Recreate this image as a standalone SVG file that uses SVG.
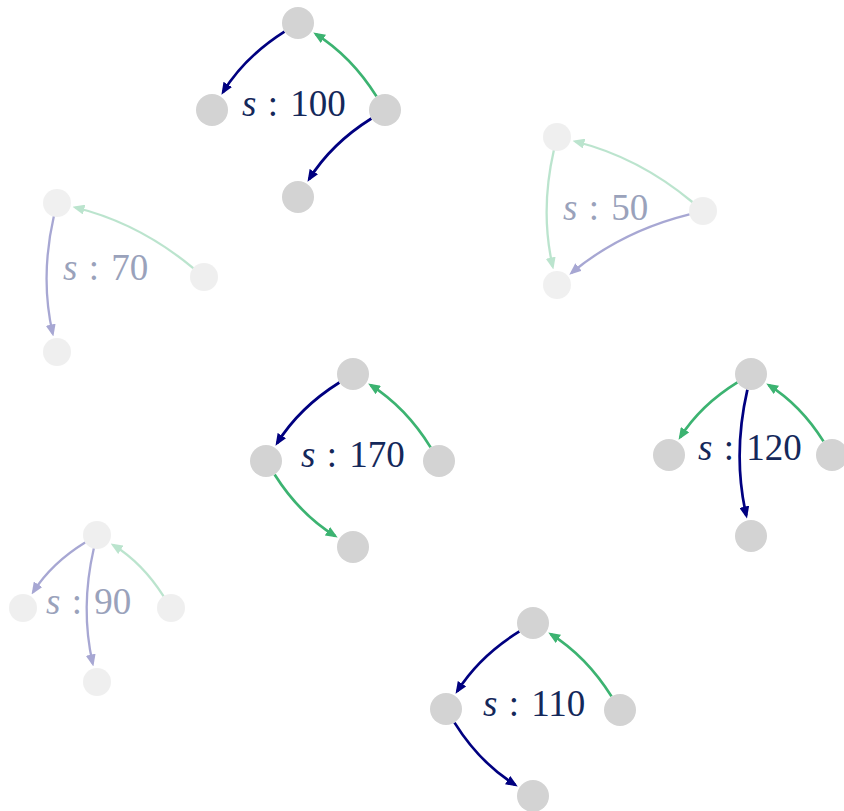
<svg xmlns="http://www.w3.org/2000/svg" width="844" height="811" viewBox="0 0 844 811">
<style>
.n{fill:#d3d3d3}
.e{fill:none;stroke-width:2.7}
.f .e{stroke-width:2.3}
.nv{stroke:#000080}
.gr{stroke:#3cb371}
.nv{marker-end:url(#an)}
.gr{marker-end:url(#ag)}
.f{opacity:0.34}
.lbl{font-family:"Liberation Serif","Times New Roman",serif;font-size:37px;fill:#14285a}
.lf{fill:#9aa2bb}
.it{font-style:italic}
</style>
<defs>
<marker id="an" viewBox="0 0 12 10" refX="9" refY="5" markerWidth="12" markerHeight="10" markerUnits="userSpaceOnUse" orient="auto"><path d="M0,0 L12,5 L0,10 z" fill="#000080"/></marker>
<marker id="ag" viewBox="0 0 12 10" refX="9" refY="5" markerWidth="12" markerHeight="10" markerUnits="userSpaceOnUse" orient="auto"><path d="M0,0 L12,5 L0,10 z" fill="#3cb371"/></marker>
</defs>
<g id="connectors">
<g id="c100">
<path class="e nv" d="M284.5,31.6 Q245,56.6 223,92.1"/>
<path class="e gr" d="M376.5,96.4 Q351.5,56.5 315.8,34.1"/>
<path class="e nv" d="M371.4,118.5 Q331.5,143.5 309.1,179.2"/>
</g>
<g id="c170">
<path class="e nv" d="M339.4,382.5 Q299.5,407.5 277.1,443.2"/>
<path class="e gr" d="M430.6,447.4 Q406,407.6 370.7,385.2"/>
<path class="e gr" d="M274.6,474.5 Q299.6,514 335.1,536"/>
</g>
<g id="c110">
<path class="e nv" d="M519.4,631.4 Q479.6,656 457.2,691.3"/>
<path class="e gr" d="M611.5,696.4 Q586.5,656.5 550.8,634.1"/>
<path class="e nv" d="M454.5,722.6 Q479.5,762.5 515.2,784.9"/>
</g>
<g id="c120">
<path class="e gr" d="M737.4,382.4 Q700.7,405.1 680.2,437.3"/>
<path class="e gr" d="M823.5,441.4 Q800.8,405.2 768.8,385.1"/>
<path class="e nv" d="M747.4,389.6 Q732.4,455 746.3,515.5"/>
</g>
<g id="c50" class="f">
<path class="e gr" d="M692.3,202 Q638.5,157.2 575.4,141.5"/>
<path class="e gr" d="M553.8,150.6 Q540,211 552.7,266.5"/>
<path class="e nv" d="M689.4,214.3 Q621.5,231.2 571.6,272.8"/>
</g>
<g id="c70" class="f">
<path class="e gr" d="M193.2,268.1 Q139,223.1 75.4,207.5"/>
<path class="e nv" d="M53.8,216.6 Q39.9,277.5 52.7,333.5"/>
</g>
<g id="c90" class="f">
<path class="e nv" d="M85.1,542.4 Q51.6,563 33.2,591.9"/>
<path class="e nv" d="M93.8,548.6 Q80.1,608.5 92.7,663.5"/>
<path class="e gr" d="M163.5,596.2 Q142.4,563 113.2,545"/>
</g>
</g>
<g id="g100">
<circle class="n" cx="298" cy="23" r="16"/>
<circle class="n" cx="212" cy="110" r="16"/>
<circle class="n" cx="385" cy="110" r="16"/>
<circle class="n" cx="298" cy="197" r="16"/>
<text class="lbl" x="242" y="116"><tspan class="it">s</tspan> <tspan dx="2">:</tspan> <tspan dx="3">100</tspan></text>
</g>
<g id="g170">
<circle class="n" cx="353" cy="374" r="16"/>
<circle class="n" cx="266" cy="461" r="16"/>
<circle class="n" cx="439" cy="461" r="16"/>
<circle class="n" cx="353" cy="547" r="16"/>
<text class="lbl" x="301" y="467"><tspan class="it">s</tspan> <tspan dx="2">:</tspan> <tspan dx="3">170</tspan></text>
</g>
<g id="g110">
<circle class="n" cx="533" cy="623" r="16"/>
<circle class="n" cx="446" cy="709" r="16"/>
<circle class="n" cx="620" cy="710" r="16"/>
<circle class="n" cx="533" cy="796" r="16"/>
<text class="lbl" x="483" y="716"><tspan class="it">s</tspan> <tspan dx="2">:</tspan> <tspan dx="3">110</tspan></text>
</g>
<g id="g120">
<circle class="n" cx="751" cy="374" r="16"/>
<circle class="n" cx="669" cy="455" r="16"/>
<circle class="n" cx="832" cy="455" r="16"/>
<circle class="n" cx="751" cy="536" r="16"/>
<text class="lbl" x="698" y="460"><tspan class="it">s</tspan> <tspan dx="2">:</tspan> <tspan dx="3">120</tspan></text>
</g>
<g id="g50">
<g class="f">
<circle class="n" cx="557" cy="137" r="14"/>
<circle class="n" cx="557" cy="285" r="14"/>
<circle class="n" cx="703" cy="211" r="14"/>
</g>
<text class="lbl lf" x="563" y="219.5"><tspan class="it">s</tspan> <tspan dx="2">:</tspan> <tspan dx="3">50</tspan></text>
</g>
<g id="g70">
<g class="f">
<circle class="n" cx="57" cy="203" r="14"/>
<circle class="n" cx="57" cy="352" r="14"/>
<circle class="n" cx="204" cy="277" r="14"/>
</g>
<text class="lbl lf" x="63" y="280"><tspan class="it">s</tspan> <tspan dx="2">:</tspan> <tspan dx="3">70</tspan></text>
</g>
<g id="g90">
<g class="f">
<circle class="n" cx="97" cy="535" r="14"/>
<circle class="n" cx="23" cy="608" r="14"/>
<circle class="n" cx="171" cy="608" r="14"/>
<circle class="n" cx="97" cy="682" r="14"/>
</g>
<text class="lbl lf" x="46" y="614"><tspan class="it">s</tspan> <tspan dx="2">:</tspan> <tspan dx="3">90</tspan></text>
</g>
</svg>
